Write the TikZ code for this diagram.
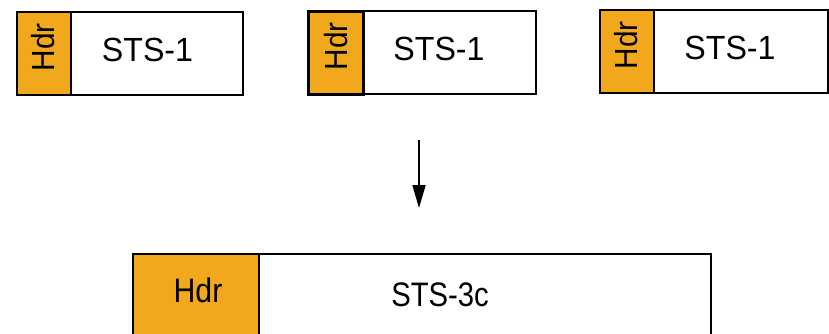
\documentclass[tikz,border=0pt]{standalone}
\usepackage{fontspec}
\setmainfont{Liberation Sans}
\usetikzlibrary{arrows.meta}
\definecolor{hdrorange}{RGB}{242,168,28}
\tikzset{
  frame/.style={draw=black, line width=1.8pt, rectangle, inner sep=0pt, anchor=north west},
  hdrbox/.style={frame, fill=hdrorange},
  bodybox/.style={frame, fill=white},
  lbl/.style={inner sep=0pt, xscale=0.96, font=\fontsize{33.5}{40}\selectfont},
  biglbl/.style={inner sep=0pt, font=\fontsize{34}{40}\selectfont},
  vlbl/.style={inner sep=0pt, rotate=90, xscale=0.93, font=\fontsize{32}{38}\selectfont},
  flow/.style={line width=1.8pt, -{Triangle[length=23pt,width=13pt]}}
}
\begin{document}
\begin{tikzpicture}[x=1pt,y=-1pt]
\useasboundingbox (0,0) rectangle (829,334);
\clip (0,0) rectangle (829,334);
% box 1
\node[bodybox, minimum width=226pt, minimum height=83pt] (b1) at (16,11) {};
\node[hdrbox, minimum width=54pt, minimum height=83pt] (h1) at (16,11) {};
\node[vlbl] (h1t) at (43.5,47.5) {Hdr};
\node[lbl] (b1t) at (147.5,50) {STS-1};
% box 2
\node[bodybox, minimum width=228pt, minimum height=83pt] (b2) at (307,10) {};
\node[hdrbox, line width=2.8pt, minimum width=55pt, minimum height=83pt] (h2) at (307,10) {};
\node[vlbl] (h2t) at (336,46.5) {Hdr};
\node[lbl] (b2t) at (439,49) {STS-1};
% box 3
\node[bodybox, minimum width=228pt, minimum height=83pt] (b3) at (599,9) {};
\node[hdrbox, minimum width=54pt, minimum height=83pt] (h3) at (599,9) {};
\node[vlbl] (h3t) at (626.5,45.5) {Hdr};
\node[lbl] (b3t) at (730,48) {STS-1};
% arrow
\coordinate (a1) at (419,140);
\coordinate (a2) at (419,208);
\draw[flow] (a1) -- (a2);
% bottom box
\node[bodybox, minimum width=578pt, minimum height=120pt] (b4) at (132,253) {};
\node[hdrbox, minimum width=126pt, minimum height=120pt] (h4) at (132,253) {};
\node[biglbl, xscale=0.89] (h4t) at (198,290.5) {Hdr};
\node[biglbl, xscale=0.86] (b4t) at (440,295) {STS-3c};
\end{tikzpicture}
\end{document}
